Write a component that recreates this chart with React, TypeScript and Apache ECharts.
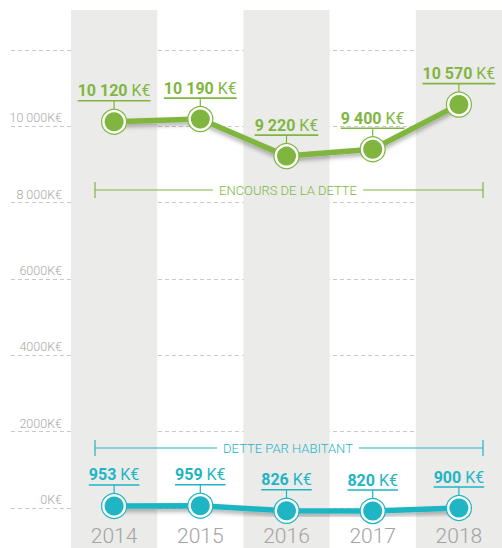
import React, { useEffect, useRef } from 'react';
import * as echarts from 'echarts';

const categories = ['2014', '2015', '2016', '2017', '2018'];
const encoursValues = [10120, 10190, 9220, 9400, 10570];
const habitantValues = [953, 959, 826, 820, 900];
const yTickLabels = ['0K€', '2000K€', '4000K€', '6000K€', '8 000K€', '10 000K€', ''];
const unitLabel = 'K€';
const encoursTitle = 'ENCOURS DE LA DETTE';
const habitantTitle = 'DETTE PAR HABITANT';

const GREEN = '#80b640';
const TEAL = '#1fb5c4';
const FONT = 'Roboto';
const LABEL_SIZE = 16;

let measureCtx: CanvasRenderingContext2D | null = null;
function measure(font: string, s: string): number {
  if (!measureCtx) measureCtx = document.createElement('canvas').getContext('2d');
  if (!measureCtx) return s.length * 8;
  measureCtx.font = font;
  return measureCtx.measureText(s).width;
}

function fmtNum(v: number): string {
  if (v >= 1000) {
    return Math.floor(v / 1000) + ' ' + String(v % 1000).padStart(3, '0');
  }
  return String(v);
}

function makeRender(color: string) {
  return (params: any, api: any) => {
    const v = api.value(1);
    const p = api.coord([api.value(0), v]);
    const cx = p[0];
    const cy = p[1];
    const num = fmtNum(v);
    const w =
      measure(`bold ${LABEL_SIZE}px ${FONT}`, num) +
      measure(`${LABEL_SIZE}px ${FONT}`, ' ' + unitLabel);
    return {
      type: 'group',
      children: [
        {
          type: 'line',
          shape: { x1: cx, y1: cy - 21, x2: cx, y2: cy - 12 },
          style: { stroke: color, lineWidth: 1.2 },
        },
        {
          type: 'line',
          shape: { x1: cx - w / 2, y1: cy - 21, x2: cx + w / 2, y2: cy - 21 },
          style: { stroke: color, lineWidth: 1.6 },
        },
        {
          type: 'text',
          x: cx,
          y: cy - 23,
          style: {
            text: `{n|${num}}{u| ${unitLabel}}`,
            rich: {
              n: { fontWeight: 'bold', fontSize: LABEL_SIZE, fontFamily: FONT, fill: color },
              u: { fontWeight: 'normal', fontSize: LABEL_SIZE, fontFamily: FONT, fill: color },
            },
            fill: color,
            fontSize: LABEL_SIZE,
            fontFamily: FONT,
            align: 'center',
            verticalAlign: 'bottom',
          },
        },
        {
          type: 'circle',
          shape: { cx, cy, r: 12.5 },
          style: { fill: '#ffffff', stroke: color, lineWidth: 1.2 },
        },
        {
          type: 'circle',
          shape: { cx, cy, r: 9.5 },
          style: { fill: color },
        },
      ],
    };
  };
}

function bracket(y: number, title: string, color: string) {
  const left = 95;
  const right = 483;
  const mid = 288;
  const tw = measure(`300 13px ${FONT}`, title);
  const z = 100;
  return [
    { type: 'line', z, shape: { x1: left, y1: y - 8, x2: left, y2: y + 8 }, style: { stroke: color, lineWidth: 1.2 } },
    { type: 'line', z, shape: { x1: left, y1: y, x2: mid - tw / 2 - 6, y2: y }, style: { stroke: color, lineWidth: 1.2 } },
    {
      type: 'text',
      z,
      x: mid,
      y: y,
      style: {
        text: title,
        fill: color,
        fontSize: 13,
        fontWeight: 300,
        fontFamily: FONT,
        align: 'center',
        verticalAlign: 'middle',
      },
    },
    { type: 'line', z, shape: { x1: mid + tw / 2 + 6, y1: y, x2: right, y2: y }, style: { stroke: color, lineWidth: 1.2 } },
    { type: 'line', z, shape: { x1: right, y1: y - 8, x2: right, y2: y + 8 }, style: { stroke: color, lineWidth: 1.2 } },
  ];
}

export default function App() {
  const ref = useRef<HTMLDivElement>(null);
  useEffect(() => {
    document.body.style.margin = '0';
    if (!ref.current) return;
    const chart = echarts.init(ref.current, null, { renderer: 'svg' });
    const shadow = { shadowColor: 'rgba(0,0,0,0.3)', shadowBlur: 4, shadowOffsetY: 3 };
    chart.setOption({
      animation: false,
      backgroundColor: '#ffffff',
      grid: [
        { left: 71, top: 10, width: 435, bottom: 0 },
        { left: 11, right: 0, top: 50, height: 458 },
        { left: 71, top: 50, width: 435, height: 458 },
      ],
      xAxis: [
        {
          type: 'category',
          gridIndex: 0,
          data: categories,
          axisLine: { show: false },
          axisTick: { show: false },
          axisLabel: { show: false },
          splitLine: { show: false },
          splitArea: { show: true, areaStyle: { color: ['#ebebea', 'rgba(255,255,255,0)'] } },
        },
        { type: 'value', gridIndex: 1, show: false },
        {
          type: 'category',
          gridIndex: 2,
          data: categories,
          axisLine: { show: false },
          axisTick: { show: false },
          axisLabel: { margin: 17, fontSize: 21, color: '#a3a3a3', fontFamily: FONT, fontWeight: 300 },
        },
      ],
      yAxis: [
        { type: 'value', gridIndex: 0, show: false },
        {
          type: 'value',
          gridIndex: 1,
          min: 0,
          max: 12000,
          interval: 2000,
          axisLine: { show: false },
          axisTick: { show: false },
          splitLine: { show: true, lineStyle: { color: '#c9c9c9', type: [4, 3], width: 1 } },
          axisLabel: {
            inside: true,
            margin: 51,
            align: 'right',
            verticalAlign: 'bottom',
            padding: [0, 0, 2, 0],
            fontSize: 12.5,
            fontFamily: FONT,
            fontWeight: 300,
            color: '#a9a9a9',
            formatter: (value: number) => yTickLabels[Math.round(value / 2000)] ?? '',
          },
        },
        { type: 'value', gridIndex: 2, min: 0, max: 12000, show: false },
        { type: 'value', gridIndex: 2, min: 900, max: 12900, show: false },
      ],
      series: [
        {
          type: 'line',
          xAxisIndex: 2,
          yAxisIndex: 2,
          data: encoursValues,
          symbol: 'none',
          clip: false,
          lineStyle: { color: GREEN, width: 5.5, ...shadow },
          z: 2,
        },
        {
          type: 'line',
          xAxisIndex: 2,
          yAxisIndex: 3,
          data: habitantValues,
          symbol: 'none',
          clip: false,
          lineStyle: { color: TEAL, width: 5.5, ...shadow },
          z: 2,
        },
        {
          type: 'custom',
          xAxisIndex: 2,
          yAxisIndex: 2,
          data: encoursValues.map((v, i) => [i, v]),
          renderItem: makeRender(GREEN),
          clip: false,
          z: 3,
        },
        {
          type: 'custom',
          xAxisIndex: 2,
          yAxisIndex: 3,
          data: habitantValues.map((v, i) => [i, v]),
          renderItem: makeRender(TEAL),
          clip: false,
          z: 3,
        },
      ],
      graphic: [...bracket(190, encoursTitle, GREEN), ...bracket(448, habitantTitle, TEAL)],
    });
    return () => chart.dispose();
  }, []);
  return <div ref={ref} style={{ position: 'absolute', left: 0, top: 0, width: 502, height: 548 }} />;
}
